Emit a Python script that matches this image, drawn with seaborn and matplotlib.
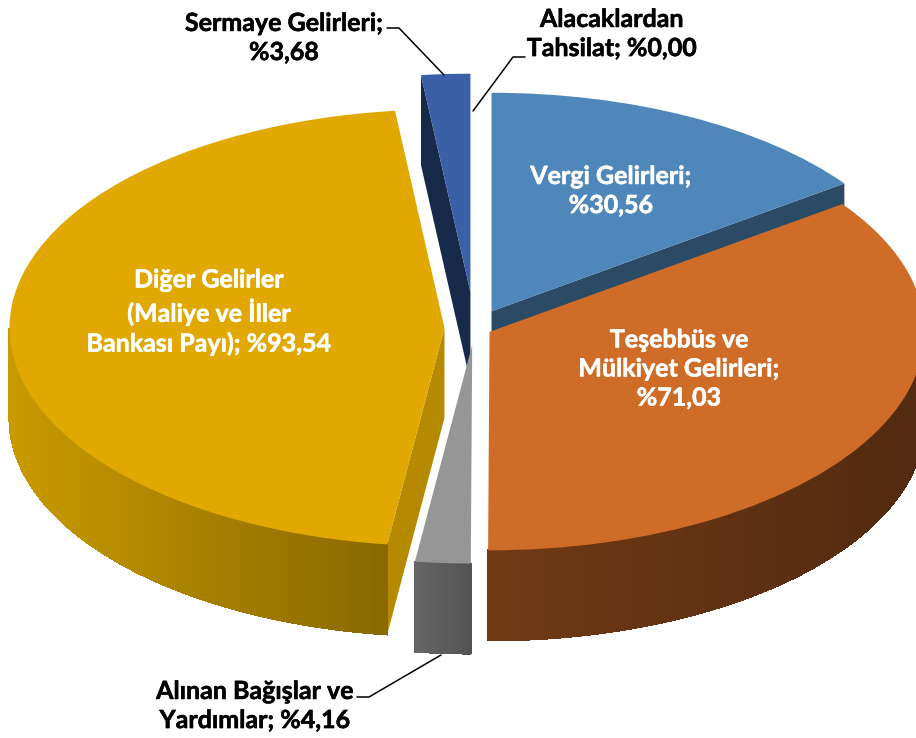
import numpy as np
import seaborn as sns
import matplotlib.pyplot as plt
import matplotlib.patheffects as pe
from matplotlib.collections import PolyCollection
from matplotlib.colors import to_rgb

sns.set_theme(style="white")
plt.rcParams['font.family'] = ['Lato', 'DejaVu Sans']

# veriler
values = [30.56, 71.03, 4.16, 93.54, 3.68, 0.00]
labels = ["Vergi Gelirleri;\n%30,56",
          "Teşebbüs ve\nMülkiyet Gelirleri;\n%71,03",
          "Alınan Bağışlar ve\nYardımlar; %4,16",
          "Diğer Gelirler\n(Maliye ve İller\nBankası Payı); %93,54",
          "Sermaye Gelirleri;\n%3,68",
          "Alacaklardan\nTahsilat; %0,00"]

# stil
top_colors = ["#4F87BA", "#CF6C28", "#969696", "#E0A800", "#3A60A8", "#BFBFBF"]
wall_left = ["#2B4A66", "#703A15", "#666666", "#C99A00", "#1A2D4D", "#BFBFBF"]
wall_right = ["#2B4A66", "#522A10", "#545454", "#886800", "#1A2D4D", "#BFBFBF"]
cut_colors = ["#2B4A66", None, None, "#B58A00", "#182A4A", None]
cut_edge = ["theta1", None, None, "theta2", "theta2", None]
explode = [0.086, 0.0388, 0.078, 0.069, 0.164, 0.0]
label_pos = [(611, 191), (679, 369), (255, 706), (209, 312), (284, 38), (612, 34)]
label_color = ["white", "white", "black", "white", "black", "black"]
leaders = [([387, 399, 444], [28, 28, 75]),
           ([525, 513, 473], [57, 57, 111]),
           ([357, 369, 441], [697, 697, 655])]

W, H = 916, 738
RX, RY = 435, 218.5
DEPTH = 90
squash = RY / RX
cx, cy = 474.5, 328

fig = plt.figure(figsize=(W / 100, H / 100), dpi=100)
ax = fig.add_axes([0, 0, 1, 1])
wedges, _ = ax.pie(values, startangle=90, counterclock=False, explode=[e * RX for e in explode], radius=RX,
                   center=(cx, (H - cy) / squash), colors=sns.color_palette(top_colors),
                   wedgeprops={'linewidth': 0, 'zorder': 5})
ax.set_aspect('auto')
ax.set_xlim(0, W)
ax.set_ylim(0, H / squash)
ax.axis('off')
d = DEPTH / squash

# dilimlerin yan yuzleri
for i, w in enumerate(wedges):
    if values[i] == 0:
        continue
    x0, y0 = w.center
    if cut_edge[i]:
        t = np.radians(getattr(w, cut_edge[i]))
        ex, ey = x0 + RX * np.cos(t), y0 + RX * np.sin(t)
        ax.fill([x0, ex, ex, x0], [y0, ey, ey - d, y0 - d], color=cut_colors[i], lw=0, zorder=2)
    th = np.radians(np.linspace(w.theta1, w.theta2, 300))
    th = th[np.sin(th) < 0]
    if len(th) < 2:
        continue
    xs, ys = x0 + RX * np.cos(th), y0 + RX * np.sin(th)
    quads, cols = [], []
    c1, c2 = np.array(to_rgb(wall_left[i])), np.array(to_rgb(wall_right[i]))
    for k in range(len(th) - 1):
        quads.append([(xs[k], ys[k]), (xs[k + 1], ys[k + 1]), (xs[k + 1], ys[k + 1] - d), (xs[k], ys[k] - d)])
        f = (xs[k] - xs.min()) / (xs.max() - xs.min())
        cols.append(c1 + (c2 - c1) * f)
    ax.add_collection(PolyCollection(quads, facecolors=cols, edgecolors=cols, linewidths=0.8,
                                     antialiaseds=False, zorder=3))

# etiketler ve baglanti cizgileri (piksel koordinatlari)
ov = fig.add_axes([0, 0, 1, 1], facecolor='none')
ov.set_xlim(0, W)
ov.set_ylim(H, 0)
ov.axis('off')
for xs, ys in leaders:
    ov.plot(xs, ys, color='black', lw=1.1, solid_joinstyle='miter')
for lab, (x, y), c in zip(labels, label_pos, label_color):
    ov.text(x, y, lab, color=c, ha='center', va='center', fontsize=18, fontweight='bold', linespacing=1.32,
            path_effects=[pe.withStroke(linewidth=0.4, foreground=c)])

fig.savefig('out.png', dpi=100, facecolor='white')
